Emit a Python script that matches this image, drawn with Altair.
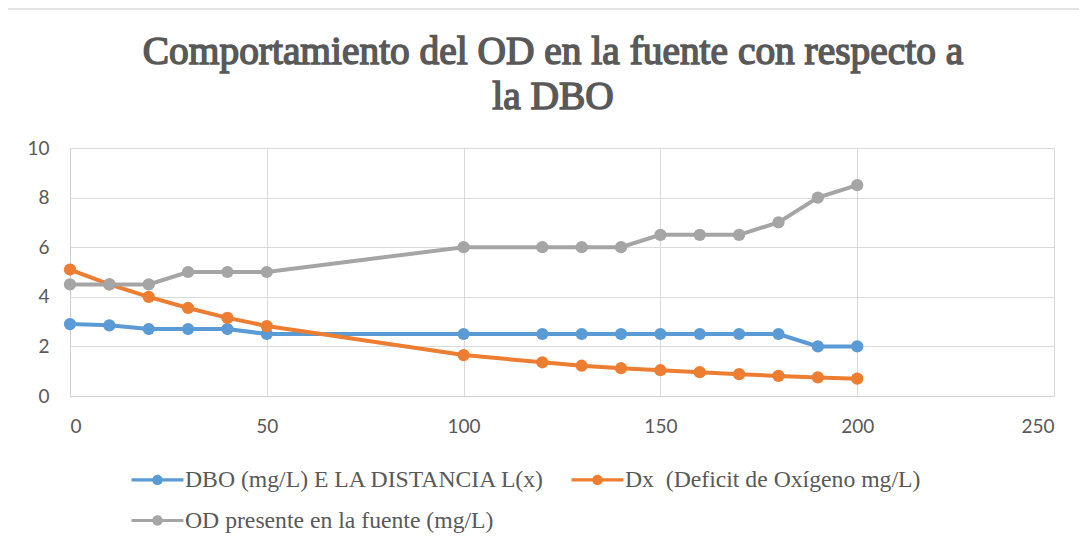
import altair as alt
import pandas as pd

distance = [0, 10, 20, 30, 40, 50, 100, 120, 130, 140, 150, 160, 170, 180, 190, 200]
dbo = [2.9, 2.85, 2.7, 2.7, 2.7, 2.5, 2.5, 2.5, 2.5, 2.5, 2.5, 2.5, 2.5, 2.5, 2.0, 2.0]
dx = [5.1, 4.5, 4.0, 3.55, 3.15, 2.82, 1.65, 1.36, 1.22, 1.12, 1.04, 0.96, 0.88, 0.81, 0.75, 0.70]
od = [4.5, 4.5, 4.5, 5.0, 5.0, 5.0, 6.0, 6.0, 6.0, 6.0, 6.5, 6.5, 6.5, 7.0, 8.0, 8.5]

series_names = [
    "DBO (mg/L) E LA DISTANCIA L(x)",
    "Dx\u00a0\u00a0(Deficit de Oxígeno mg/L)",
    "OD presente en la fuente (mg/L)",
]
series_colors = ["#5B9BD5", "#ED7D31", "#A5A5A5"]
x_ticks = [0, 50, 100, 150, 200, 250]
y_ticks = [0, 2, 4, 6, 8, 10]
title_lines = ["Comportamiento del OD en la fuente con respecto a", "la DBO"]

rows = []
for name, vals in zip(series_names, [dbo, dx, od]):
    for d, v in zip(distance, vals):
        rows.append({"x": d, "y": v, "serie": name})
df = pd.DataFrame(rows)

legend_symbol = (
    "M-1.5,-0.09 L1.5,-0.09 L1.5,0.09 L-1.5,0.09 Z "
    "M-0.3,0 A0.3,0.3 0 1,1 0.3,0 A0.3,0.3 0 1,1 -0.3,0 Z"
)

lines = alt.Chart(df).mark_line(
    strokeWidth=4,
    point=alt.OverlayMarkDef(size=150, filled=True, opacity=1),
).encode(
    x=alt.X("x:Q", scale=alt.Scale(domain=[0, 250], nice=False),
            axis=alt.Axis(values=x_ticks, title=None, grid=True, labelPadding=21)),
    y=alt.Y("y:Q", scale=alt.Scale(domain=[0, 10], nice=False),
            axis=alt.Axis(values=y_ticks, title=None, grid=True, labelPadding=21)),
    color=alt.Color(
        "serie:N",
        scale=alt.Scale(domain=series_names, range=series_colors),
        legend=alt.Legend(
            title=None,
            orient="none",
            legendX=70,
            legendY=314,
            direction="horizontal",
            columns=2,
            symbolType=legend_symbol,
            symbolSize=1200,
            symbolStrokeWidth=0,
            labelFont="Liberation Serif",
            labelFontSize=23.7,
            labelColor="#595959",
            labelLimit=700,
            labelOffset=10,
            columnPadding=25,
            rowPadding=11,
            padding=0,
        ),
    ),
)

frame = alt.Chart(pd.DataFrame({"a": [0]})).mark_rect(
    fill=None, stroke="#D9D9D9", strokeWidth=1.5
).encode(
    x=alt.value(-63), x2=alt.value(1100), y=alt.value(-139), y2=alt.value(500)
)

title = alt.Chart(pd.DataFrame({"a": [0]})).mark_text(
    text=title_lines,
    font="Liberation Serif",
    fontSize=39.4,
    lineHeight=45,
    align="center",
    baseline="alphabetic",
    fill="#595959",
    stroke="#595959",
    strokeWidth=1.5,
).encode(x=alt.value(483), y=alt.value(-84))

chart = alt.layer(frame, lines, title).properties(
    width=984,
    height=248,
    padding={"left": 62, "top": 140, "right": 25, "bottom": 144},
    autosize=alt.AutoSizeParams(type="none"),
).configure_view(stroke=None).configure_axis(
    domainColor="#D0D0D0",
    gridColor="#D9D9D9",
    tickSize=0,
    labelFont="Lato",
    labelFontSize=19,
    labelColor="#595959",
).configure_legend(symbolType=legend_symbol)

chart.save("out.html", embed_options={"renderer": "svg", "actions": False})
